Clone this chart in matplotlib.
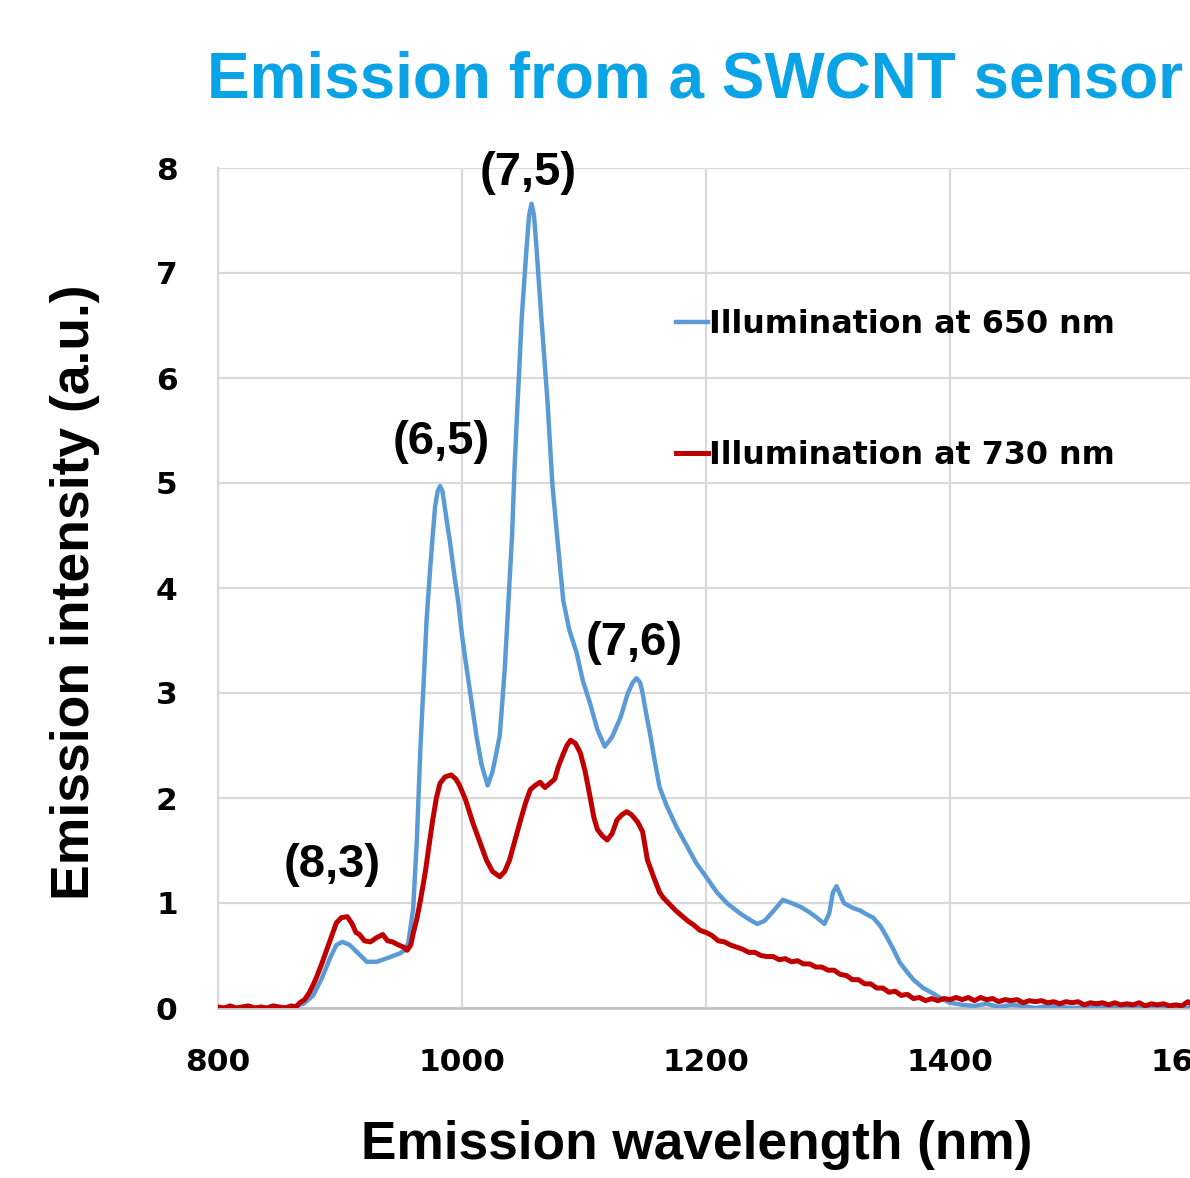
import numpy as np
import matplotlib
matplotlib.use("Agg")
import matplotlib.pyplot as plt

# Datos (longitud de onda en nm, intensidad en u.a.)
nm_650 = [800, 820, 840, 860, 870, 878, 885, 892, 897, 902, 908, 915, 922, 930, 940, 949,
          953, 956, 960, 963, 966, 969, 971, 974, 976, 978, 980, 982, 984, 986, 988, 990,
          994, 997,
          1000, 1004, 1008, 1012, 1016, 1021, 1025, 1028, 1031, 1035, 1038, 1041, 1043,
          1045, 1049, 1053, 1055, 1057, 1059, 1061, 1065, 1070, 1074, 1078, 1083, 1088,
          1094, 1099,
          1105, 1111, 1117, 1123, 1130, 1136, 1140, 1143, 1146, 1148, 1151, 1154, 1158,
          1162, 1168, 1176, 1184, 1192, 1200, 1209, 1218, 1228, 1236, 1242, 1248, 1255,
          1263, 1270, 1278, 1285, 1291, 1297, 1301, 1304, 1307, 1310, 1313, 1316, 1321,
          1326, 1332, 1337, 1343, 1348, 1354, 1359, 1365, 1370, 1378, 1386, 1393, 1400,
          1410, 1420, 1430, 1440, 1450, 1460, 1470, 1480, 1490, 1500, 1520, 1540, 1560,
          1580, 1600]
int_650 = [0.0, 0.0, 0.0, 0.01, 0.04, 0.12, 0.28, 0.48, 0.6, 0.63, 0.6, 0.52, 0.44, 0.44,
           0.48, 0.52, 0.55, 0.62, 0.95, 1.6, 2.5, 3.2, 3.7, 4.2, 4.5, 4.78, 4.92, 4.97,
           4.92, 4.76, 4.6, 4.45, 4.1, 3.86, 3.55, 3.22, 2.9, 2.58, 2.32, 2.12, 2.25, 2.42,
           2.6, 3.22, 3.86, 4.49, 5.12, 5.63, 6.58, 7.25, 7.55, 7.66, 7.55, 7.25, 6.58,
           5.79, 5.0, 4.49, 3.88,
           3.6, 3.38, 3.12, 2.9, 2.65, 2.49, 2.58, 2.77, 3.0, 3.1, 3.14, 3.1, 3.0, 2.8,
           2.62, 2.35, 2.1, 1.92, 1.72, 1.55, 1.38, 1.25, 1.1, 0.99, 0.9, 0.84, 0.8, 0.83,
           0.92, 1.03, 1.0, 0.96, 0.91, 0.86, 0.8, 0.9, 1.1, 1.16, 1.08, 1.0, 0.98, 0.95,
           0.93, 0.89, 0.86, 0.78, 0.68, 0.55, 0.43, 0.34, 0.27, 0.19, 0.14, 0.09, 0.05,
           0.03, 0.02, 0.04, 0.01, 0.03, 0.02, 0.0, 0.02, 0.01, 0.0, 0.01, 0.0, 0.0,
           0.0, 0.0]

nm_730 = [800, 805, 810, 815, 820, 825, 830, 835, 840, 845, 850, 855, 860, 864, 867, 871,
          875, 878, 881, 885, 889, 893, 897, 901, 906, 910, 913, 916, 920, 925, 930, 935,
          939, 943, 948, 952, 955, 958, 960, 963, 966, 970, 973, 976, 979, 982, 986, 991,
          995, 998, 1003, 1009, 1014, 1020, 1025, 1031, 1035, 1039, 1043, 1048, 1052,
          1056, 1060, 1064, 1068, 1072, 1076, 1079, 1083, 1086, 1089, 1093, 1097, 1101,
          1105, 1108, 1111, 1115, 1119, 1123, 1127, 1131, 1135, 1139, 1144, 1148, 1152,
          1157, 1162,
          1165, 1170, 1175, 1180, 1185, 1190, 1195, 1200, 1205, 1210, 1215, 1220, 1225,
          1230, 1235, 1240, 1245, 1250, 1255, 1260, 1265, 1270, 1275, 1280, 1285, 1290,
          1295, 1300, 1305, 1310, 1315, 1320, 1325, 1330, 1335, 1340, 1345, 1350, 1355,
          1360, 1365, 1370, 1375, 1380, 1385, 1390, 1395, 1400, 1405, 1410, 1415, 1420,
          1425, 1430, 1435, 1440, 1445, 1450, 1455, 1460, 1465, 1470, 1475, 1480, 1485,
          1490, 1495, 1500, 1505, 1510, 1515, 1520, 1525, 1530, 1535, 1540, 1545, 1550,
          1555, 1560, 1565, 1570, 1575, 1580, 1585, 1590, 1595, 1600]
int_730 = [0.01, 0.0, 0.02, 0.0, 0.01, 0.02, 0.0, 0.01, 0.0, 0.02, 0.01, 0.0, 0.02, 0.01,
           0.05, 0.08, 0.15, 0.22, 0.3, 0.42, 0.55, 0.68, 0.81, 0.86, 0.87, 0.8, 0.72,
           0.7, 0.64, 0.63, 0.67, 0.7, 0.64, 0.63, 0.6, 0.58, 0.55, 0.6, 0.71, 0.85, 1.03,
           1.3, 1.55, 1.79, 2.0, 2.14, 2.2, 2.22, 2.18, 2.12, 1.98, 1.76, 1.6, 1.41, 1.3,
           1.25, 1.3, 1.41, 1.58, 1.79, 1.95, 2.08, 2.12, 2.15, 2.1, 2.14, 2.18, 2.3, 2.42,
           2.5, 2.55, 2.52, 2.43, 2.25, 2.01, 1.82, 1.7, 1.64, 1.6, 1.66, 1.79, 1.84,
           1.87, 1.84, 1.77, 1.68, 1.41, 1.25, 1.1,
           1.05, 0.99, 0.93, 0.88, 0.83, 0.79, 0.74, 0.72, 0.69, 0.64, 0.63, 0.6, 0.58,
           0.56, 0.53, 0.53, 0.5, 0.49, 0.49, 0.46, 0.47, 0.44, 0.45, 0.42, 0.42, 0.39,
           0.39, 0.36, 0.36, 0.32, 0.31, 0.27, 0.27, 0.23, 0.23, 0.19, 0.19, 0.15, 0.16,
           0.12, 0.13, 0.09, 0.1, 0.07, 0.09, 0.07, 0.09, 0.08, 0.1, 0.08, 0.1, 0.07, 0.1,
           0.08, 0.09, 0.06, 0.08, 0.07, 0.08, 0.05, 0.07, 0.06, 0.07, 0.05, 0.06, 0.04,
           0.06, 0.05, 0.06, 0.03, 0.05, 0.04, 0.05, 0.03, 0.05, 0.03, 0.04, 0.03, 0.05,
           0.02, 0.04, 0.03, 0.04, 0.02, 0.03, 0.02, 0.06, 0.02]

etiquetas = ["(8,3)", "(6,5)", "(7,5)", "(7,6)"]
etiq_x = [894, 983, 1054, 1141]
etiq_y = [1.36, 5.39, 7.95, 3.48]

azul = "#5B9BD5"
rojo = "#C00000"

fig = plt.figure(figsize=(11.9, 11.78), dpi=100)
ax = fig.add_axes([218 / 1190, 1 - 1008 / 1178, 976 / 1190, 840 / 1178])

ax.plot(nm_650, int_650, color=azul, lw=3.2, label="Illumination at 650 nm", zorder=3,
        solid_joinstyle="round")
ax.plot(nm_730, int_730, color=rojo, lw=3.6, label="Illumination at 730 nm", zorder=4,
        solid_joinstyle="round")

ax.set_xlim(800, 1600)
ax.set_ylim(0, 8)
ax.set_xticks([800, 1000, 1200, 1400, 1600])
ax.set_yticks(range(0, 9))
ax.grid(True, color="#D9D9D9", lw=1.6)
ax.set_axisbelow(True)
ax.tick_params(length=0, labelsize=22.5, pad=29)
for lbl in ax.get_xticklabels() + ax.get_yticklabels():
    lbl.set_fontweight("bold")
    lbl.set_family("DejaVu Sans")

for s in ["top", "right"]:
    ax.spines[s].set_visible(False)
ax.spines["left"].set_color("#D9D9D9")
ax.spines["left"].set_linewidth(1.6)
ax.spines["bottom"].set_color("#BFBFBF")
ax.spines["bottom"].set_linewidth(1.8)

fuente = "Liberation Sans"
ax.set_xlabel("Emission wavelength (nm)", fontsize=38.3, fontweight="bold", family=fuente)
ax.xaxis.set_label_coords(0.49, -0.133)
ax.set_ylabel("Emission intensity (a.u.)", fontsize=38.5, fontweight="bold", family=fuente)
ax.yaxis.set_label_coords(-0.121, 0.495)

for t, x, y in zip(etiquetas, etiq_x, etiq_y):
    ax.text(x, y, t, fontsize=34, fontweight="bold", family=fuente,
            ha="center", va="center")

ax.legend(loc="upper left", bbox_to_anchor=(0.469, 0.832), frameon=False,
          handlelength=1.0, handletextpad=0.05, labelspacing=3.15,
          borderpad=0, borderaxespad=0,
          prop={"family": "DejaVu Sans", "weight": "bold", "size": 22.9})

fig.text(695 / 1190, 1 - 80 / 1178, "Emission from a SWCNT sensor", color="#0AA3E6",
         fontsize=46, fontweight="bold", family=fuente, ha="center", va="center")

fig.savefig("out.png", dpi=100)
